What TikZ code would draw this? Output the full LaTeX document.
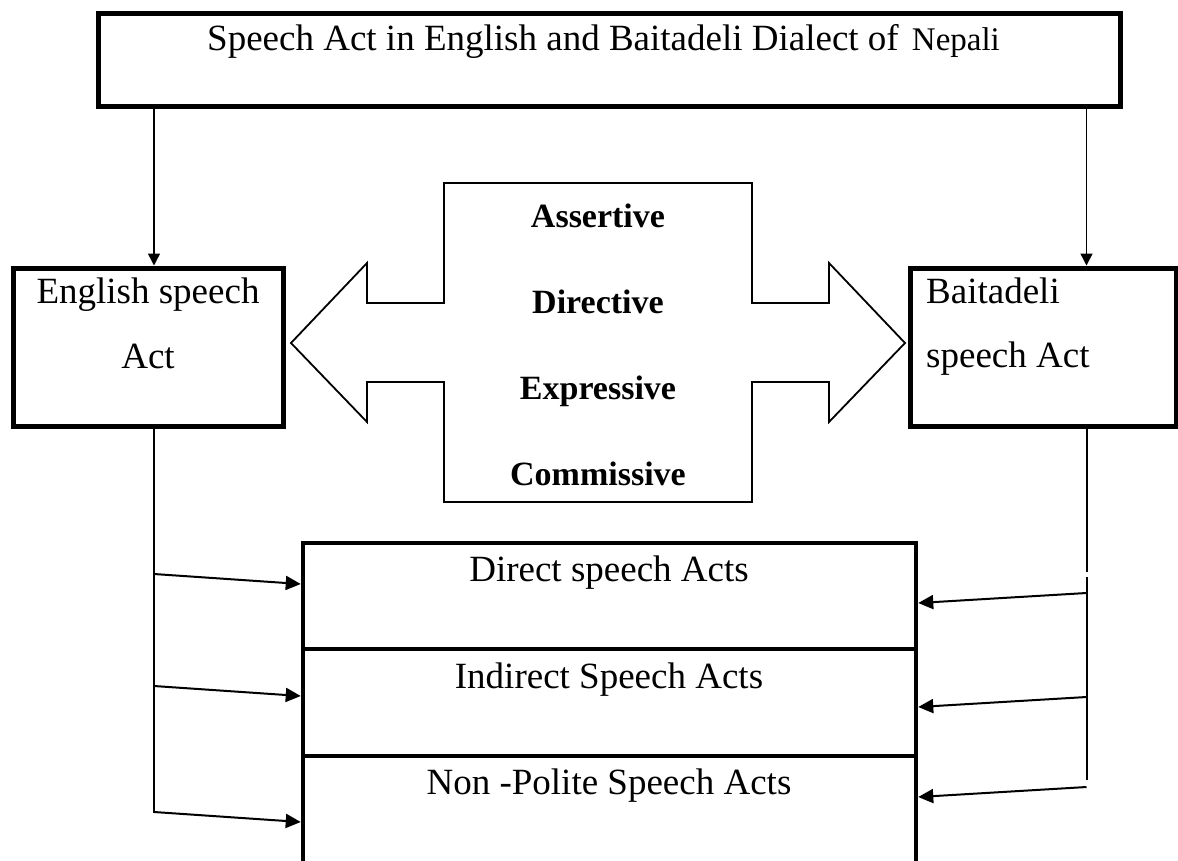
\documentclass[tikz,border=0pt]{standalone}
\usepackage{fontspec}
\setmainfont{Liberation Serif}
\usetikzlibrary{arrows.meta}

\tikzset{
    thickbox/.style={draw, line width=5pt, inner sep=0pt},
    rowbox/.style={draw, line width=4.5pt, inner sep=0pt, minimum width=613pt},
    arr/.style={line width=2pt, -{Triangle[length=15pt,width=14pt]}},
    toparr/.style={line width=1.5pt, -{Triangle[length=12pt,width=12pt]}},
    txt/.style={inner sep=0pt, anchor=base, font=\fontsize{37}{44}\selectfont},
    btxt/.style={inner sep=0pt, anchor=base, font=\fontsize{34}{40}\selectfont\bfseries},
}

\begin{document}
\begin{tikzpicture}[x=1pt, y=-1pt]
    \useasboundingbox (0,0) rectangle (1178,860);
    % title
    \node[thickbox, minimum width=1022pt, minimum height=93pt] (T) at (609,60) {};
    \node[txt, anchor=base west] (Tt) at (207,50) {Speech Act in English and Baitadeli Dialect of\hspace{4pt} {\fontsize{33}{40}\selectfont Nepali}};
    % the two sides
    \node[thickbox, minimum width=270pt, minimum height=158pt] (E) at (148,347) {};
    \node[txt] (Et1) at (148,303) {English speech};
    \node[txt] (Et2) at (148,368) {Act};
    \node[thickbox, minimum width=266pt, minimum height=158pt] (B) at (1043,347) {};
    \node[txt, anchor=base west] (Bt1) at (926,303) {Baitadeli};
    \node[txt, anchor=base west] (Bt2) at (926,367) {speech Act};
    \coordinate (eL) at (154,0);
    \coordinate (bR) at (1086.5,0);
    \draw[toparr] (T.south -| eL) -- (E.north -| eL);
    \draw[toparr] (T.south -| bR) -- (B.north -| bR);
    % double arrow
    \draw[line width=1.8pt] (444,183) -- (752,183) -- (752,303) -- (829,303) -- (829,263)
        -- (905,343) -- (829,422) -- (829,382) -- (752,382) -- (752,502) -- (444,502)
        -- (444,382) -- (367,382) -- (367,422) -- (291,343) -- (367,263) -- (367,303)
        -- (444,303) -- cycle;
    \foreach \w/\y [count=\i] in {Assertive/227, Directive/313, Expressive/399, Commissive/485}
        \node[btxt] (c\i) at (598,\y) {\w};
    % rows
    \node[rowbox, minimum height=106pt] (r1) at (609.5,596) {};
    \node[rowbox, minimum height=107pt] (r2) at (609.5,702.5) {};
    \node[rowbox, minimum height=124pt] (r3) at (609.5,818) {};
    \node[txt] (rt1) at (609,581) {Direct speech Acts};
    \node[txt] (rt2) at (609,688) {Indirect Speech Acts};
    \node[txt] (rt3) at (609,794) {Non -Polite Speech Acts};
    \draw[line width=2pt] (E.south -| eL) -- (eL |- 0,813);
    \draw[line width=2pt] (B.south -| bR) -- (bR |- 0,572);
    \draw[line width=2pt] (bR |- 0,577) -- (bR |- 0,780);
    \foreach \i/\a/\b in {1/574/584, 2/686/696, 3/812/822}
        \draw[arr] (eL |- 0,\a) -- (r\i.west |- 0,\b);
    \foreach \i/\a/\b in {1/593/603, 2/697/707, 3/787/797}
        \draw[arr] (bR |- 0,\a) -- (r\i.east |- 0,\b);
\end{tikzpicture}
\end{document}
